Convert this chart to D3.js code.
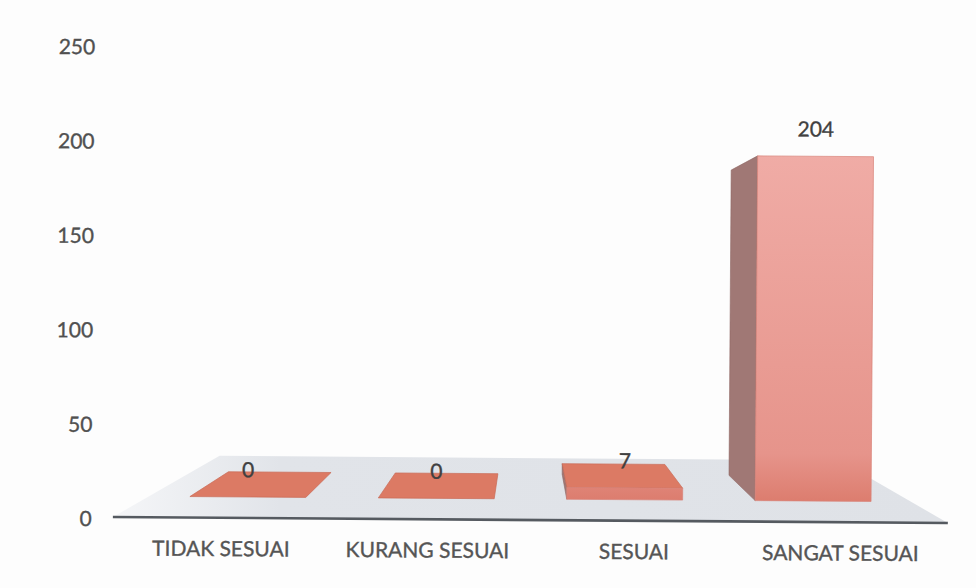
<!DOCTYPE html>
<html>
<head>
<meta charset="utf-8">
<script src="https://cdn.jsdelivr.net/npm/d3@7"></script>
<style>
  html, body { margin: 0; padding: 0; background: #fdfdfd; }
  svg { display: block; }
</style>
</head>
<body>
<svg id="chart" width="976" height="588"></svg>
<script>
// Categories and their counts
const categories = ["TIDAK SESUAI", "KURANG SESUAI", "SESUAI", "SANGAT SESUAI"];
const values = [0, 0, 7, 204];
const yTicks = [0, 50, 100, 150, 200, 250];

const svg = d3.select("#chart");

// Perspective set-up: vanishing point and depth factors
const vp = { x: 525, y: 280 };
const floorY = 520;           // front edge of the floor
const kFront = 0.9125;        // front faces of the bars
const kBack = 0.808;          // back faces of the bars
const kFloorBack = 0.742;     // back edge of the floor

const x = d3.scaleBand()
  .domain(categories)
  .range([118, 944])
  .paddingInner(0.385)
  .paddingOuter(0.1925);

// value -> tick label position on the axis
const yAxis = d3.scaleLinear().domain([0, 250]).range([522, 50]);
// value -> bar height in world units (before perspective)
const hScale = d3.scaleLinear().domain([0, 250]).range([0, 463]);

function P(X, h, k) {
  return [vp.x + k * (X - vp.x), vp.y + k * (floorY - h - vp.y)];
}
const poly = pts => "M" + pts.map(p => p[0].toFixed(2) + "," + p[1].toFixed(2)).join("L") + "Z";

const defs = svg.append("defs");
const floorGrad = defs.append("linearGradient")
  .attr("id", "floorGrad").attr("gradientUnits", "userSpaceOnUse")
  .attr("x1", 113).attr("y1", 0).attr("x2", 948).attr("y2", 0);
floorGrad.append("stop").attr("offset", "0%").attr("stop-color", "#f5f6f8");
floorGrad.append("stop").attr("offset", "20%").attr("stop-color", "#e1e4e9");
floorGrad.append("stop").attr("offset", "100%").attr("stop-color", "#dfe2e7");

const frontGrad = defs.append("linearGradient")
  .attr("id", "frontGrad").attr("gradientUnits", "userSpaceOnUse")
  .attr("x1", 0).attr("y1", 150).attr("x2", 0).attr("y2", 505);
frontGrad.append("stop").attr("offset", "0%").attr("stop-color", "#f0aca6");
frontGrad.append("stop").attr("offset", "85%").attr("stop-color", "#e6948b");
frontGrad.append("stop").attr("offset", "100%").attr("stop-color", "#db7a6b");

const textStyle = sel => sel
  .attr("font-family", "Lato, 'Open Sans', sans-serif")
  .attr("font-size", 21)
  .attr("stroke-width", 0.35);

// Slight tilt of the whole chart
const g = svg.append("g").attr("transform", "rotate(0.41, 530, 500)");

// Floor
const [fx0, fx1] = [113, 948];
g.append("path")
  .attr("d", poly([P(fx0, 0, 1), P(fx1, 0, 1), P(fx1, 0, kFloorBack), P(fx0, 0, kFloorBack)]))
  .attr("fill", "url(#floorGrad)");

// Front axis line
g.append("line")
  .attr("x1", fx0).attr("x2", fx1)
  .attr("y1", floorY).attr("y2", floorY)
  .attr("stroke", "#555a60").attr("stroke-width", 2.6);

// Y tick labels
g.append("g").selectAll("text")
  .data(yTicks).join("text")
  .attr("x", 92)
  .attr("y", d => yAxis(d))
  .attr("dy", "0.35em")
  .attr("text-anchor", "end")
  .call(textStyle)
  .attr("fill", "#505050").attr("stroke", "#505050")
  .text(d => d);

// Category labels
g.append("g").selectAll("text")
  .data(categories).join("text")
  .attr("x", d => x(d) + x.bandwidth() / 2)
  .attr("y", 551)
  .attr("dy", "0.35em")
  .attr("text-anchor", "middle")
  .call(textStyle)
  .attr("fill", "#555555").attr("stroke", "#555555")
  .text(d => d);

// Bars as perspective boxes
const bars = categories.map((c, i) => ({ c, v: values[i] }));
const barG = g.append("g");
bars.forEach(b => {
  const X0 = x(b.c), X1 = X0 + x.bandwidth();
  const h = hScale(b.v);
  const grp = barG.append("g");
  // side faces
  if (X0 > vp.x && h > 0) {
    grp.append("path")
      .attr("d", poly([P(X0, 0, kFront), P(X0, h, kFront), P(X0, h, kBack), P(X0, 0, kBack)]))
      .attr("fill", "#a07875").attr("stroke", "#8e6662").attr("stroke-width", 0.6);
  }
  if (X1 < vp.x && h > 0) {
    grp.append("path")
      .attr("d", poly([P(X1, 0, kFront), P(X1, h, kFront), P(X1, h, kBack), P(X1, 0, kBack)]))
      .attr("fill", "#a07875").attr("stroke", "#8e6662").attr("stroke-width", 0.6);
  }
  // top face (visible when below eye level)
  if (floorY - h > vp.y) {
    grp.append("path")
      .attr("d", poly([P(X0, h, kFront), P(X1, h, kFront), P(X1, h, kBack), P(X0, h, kBack)]))
      .attr("fill", "#dc7a64").attr("stroke", "#c96a56").attr("stroke-width", 0.7);
  }
  // front face
  if (h > 0) {
    grp.append("path")
      .attr("d", poly([P(X0, 0, kFront), P(X1, 0, kFront), P(X1, h, kFront), P(X0, h, kFront)]))
      .attr("fill", "url(#frontGrad)").attr("stroke", "#d98379").attr("stroke-width", 0.7);
  }
  // value label
  const top = P((X0 + X1) / 2, h, kFront);
  grp.append("text")
    .attr("x", top[0])
    .attr("y", top[1] - 27)
    .attr("dy", "0.35em")
    .attr("text-anchor", "middle")
    .call(textStyle)
    .attr("fill", "#404040").attr("stroke", "#404040")
    .text(b.v);
});
</script>
</body>
</html>
